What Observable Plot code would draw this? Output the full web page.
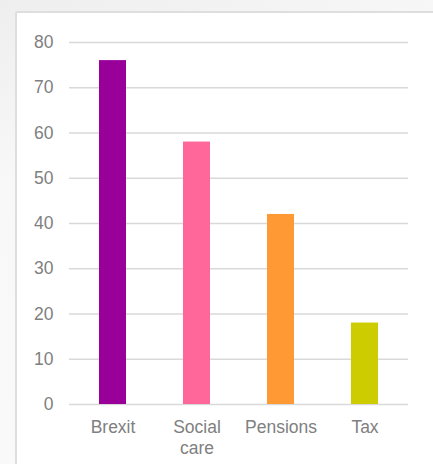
<!DOCTYPE html>
<html><head><meta charset="utf-8">
<script src="https://cdn.jsdelivr.net/npm/d3@7"></script>
<script src="https://cdn.jsdelivr.net/npm/@observablehq/plot@0.6"></script>
<style>
html,body{margin:0;padding:0;}
body{width:433px;height:464px;overflow:hidden;position:relative;background:linear-gradient(160deg,#eeeeee 0%,#f8f8f8 30%,#fafafa 100%);font-family:"Liberation Sans",Arial,sans-serif;}
#frame{position:absolute;left:15px;top:11px;width:440px;height:470px;background:#fff;border:2px solid #dedede;border-radius:2px;}
#chart{position:absolute;left:0;top:0;}
</style></head>
<body>
<div id="frame"></div>
<div id="chart"></div>
<script>
const categories = ["Brexit", "Social care", "Pensions", "Tax"];
const values = [76, 58, 42, 18];
const colors = ["#990099", "#FF6699", "#FF9933", "#CCCC00"];
const yTicks = [0, 10, 20, 30, 40, 50, 60, 70, 80];

const data = categories.map((c, i) => ({category: c, value: values[i], color: colors[i]}));

const chart = Plot.plot({
  width: 433,
  height: 464,
  marginLeft: 69,
  marginRight: 25,
  marginTop: 42,
  marginBottom: 60,
  style: {background: "transparent", fontFamily: "'Liberation Sans', Arial, sans-serif", fontSize: "17.5px", color: "#808080"},
  x: {domain: categories, paddingInner: 0.68, paddingOuter: 0.34, align: 0.5},
  y: {domain: [0, 80], ticks: yTicks},
  marks: [
    Plot.gridY(yTicks, {stroke: "#d9d9d9", strokeOpacity: 1, strokeWidth: 1.5}),
    Plot.barY(data, {x: "category", y: "value", fill: "color"}),
    Plot.axisY(yTicks, {tickSize: 0, tickPadding: 16, fill: "#808080", label: null, fontSize: 17.5}),
    Plot.axisX({tickSize: 0, tickPadding: 14, fill: "#808080", label: null, fontSize: 17.5, lineHeight: 1.18,
      tickFormat: d => d.replace(" ", "\n")})
  ]
});
document.getElementById("chart").appendChild(chart);
</script>
</body></html>
